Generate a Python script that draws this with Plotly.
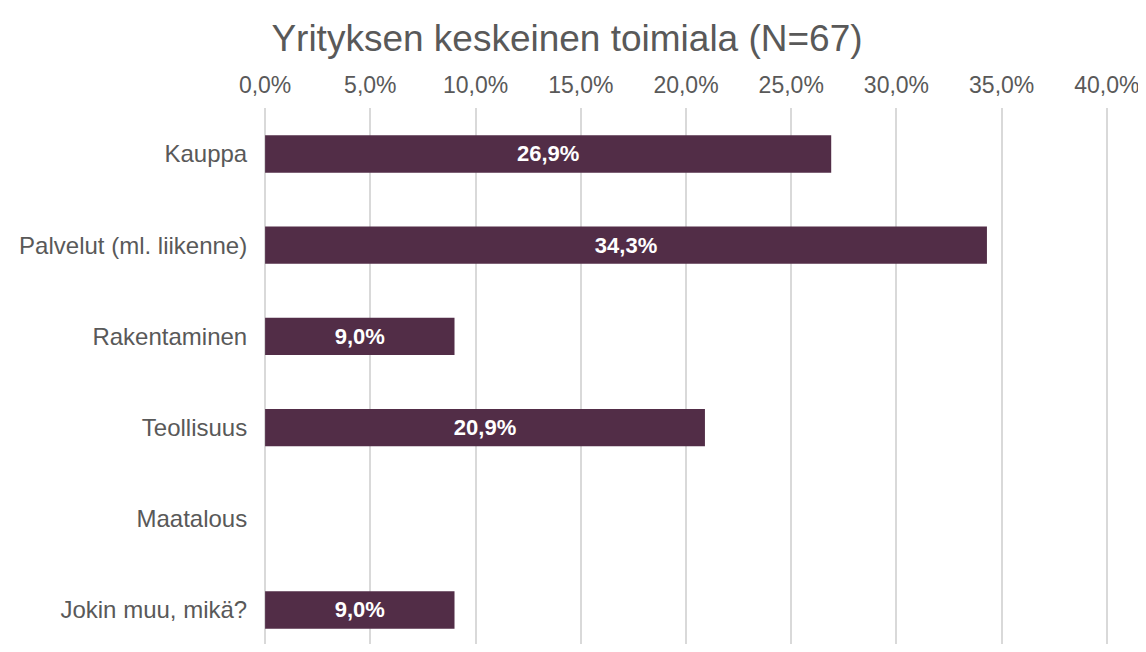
import plotly.graph_objects as go

categories = ["Kauppa", "Palvelut (ml. liikenne)", "Rakentaminen", "Teollisuus", "Maatalous", "Jokin muu, mikä?"]
values = [26.9, 34.3, 9.0, 20.9, 0.0, 9.0]
tick_vals = [0, 5, 10, 15, 20, 25, 30, 35, 40]
tick_text = ["0,0%", "5,0%", "10,0%", "15,0%", "20,0%", "25,0%", "30,0%", "35,0%", "40,0%"]

labels = [("{:.1f}%".format(v)).replace(".", ",") if v > 0 else "" for v in values]
FONT = "Liberation Sans, Arial"

fig = go.Figure()
fig.add_trace(go.Bar(
    y=categories, x=values, orientation="h",
    marker=dict(color="#522D47", line=dict(width=0)),
    width=0.41,
    text=labels, textposition="inside", insidetextanchor="middle",
    textfont=dict(family=FONT, size=22, color="white", weight="bold"),
    cliponaxis=False,
))

fig.update_layout(
    width=1138, height=636,
    margin=dict(l=255, r=37, t=100, b=0, autoexpand=False),
    plot_bgcolor="white", paper_bgcolor="white",
    showlegend=False,
    title=dict(text="Yrityksen keskeinen toimiala (N=67)", x=559 / 1138, xanchor="center",
               y=1 - 30 / 636, yanchor="middle", yref="container",
               font=dict(family=FONT, size=37, color="#595959")),
    xaxis=dict(side="top", range=[-0.1, 40.1], tickmode="array",
               tickvals=tick_vals, ticktext=tick_text,
               showgrid=True, gridcolor="#D9D9D9", gridwidth=2,
               zeroline=True, zerolinecolor="#D9D9D9", zerolinewidth=2,
               showline=False, ticks="outside", ticklen=5, tickcolor="rgba(0,0,0,0)",
               automargin=False,
               tickfont=dict(family=FONT, size=23, color="#595959")),
    yaxis=dict(range=[5.373, -0.504], showgrid=False, zeroline=False, showline=False,
               ticks="outside", ticklen=10, tickcolor="rgba(0,0,0,0)",
               automargin=False,
               tickfont=dict(family=FONT, size=24, color="#595959")),
)

fig.write_html("out.html")
